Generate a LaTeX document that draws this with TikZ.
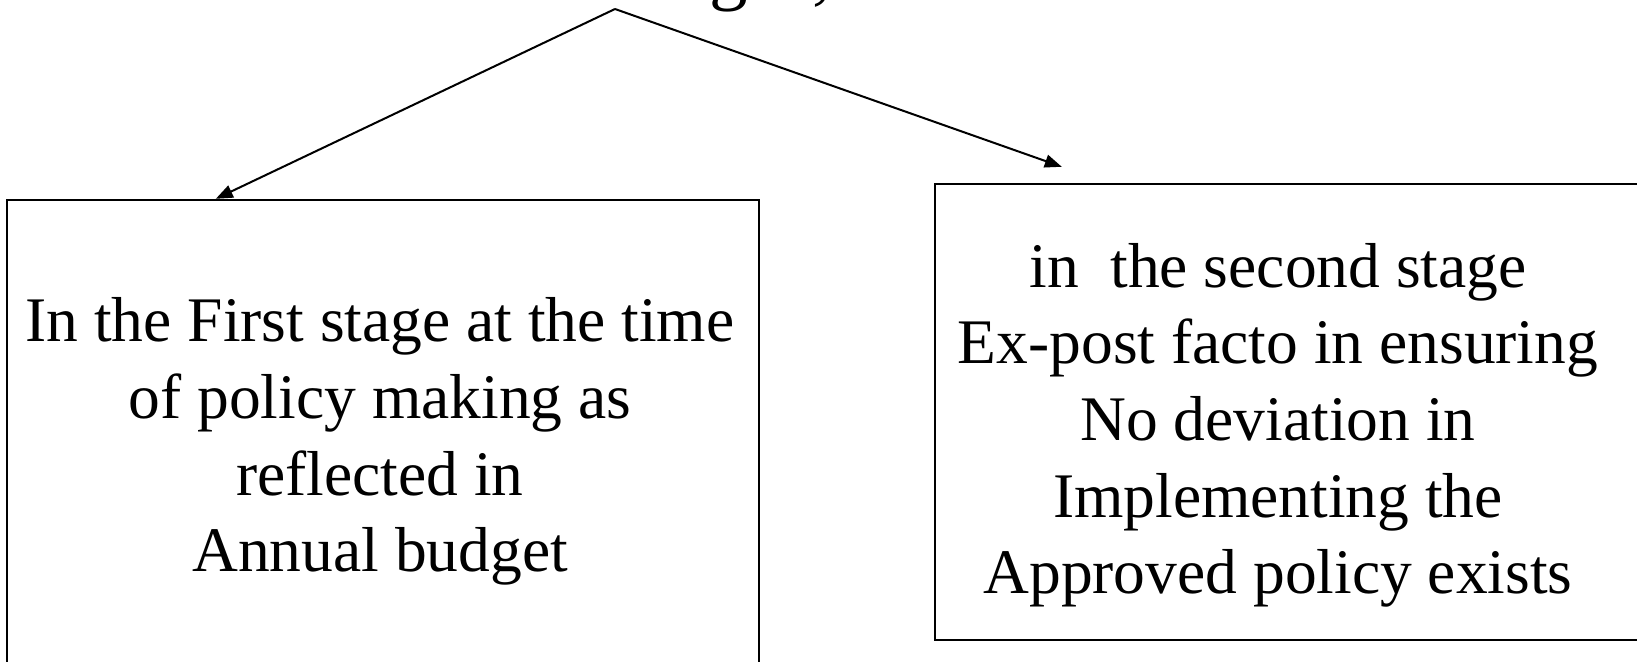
\documentclass[tikz,border=0pt]{standalone}
\usepackage{fontspec}
\setmainfont{Liberation Serif}
\usetikzlibrary{arrows.meta}
\begin{document}
\begin{tikzpicture}[x=1pt,y=-1pt,
  box/.style={draw, line width=2.4pt, inner sep=0pt},
  body/.style={font=\fontsize{63.5}{76.7}\selectfont, align=center, inner sep=0pt},
  conn/.style={line width=2pt, -{Triangle[length=17pt,width=13pt]}}]
\path[use as bounding box, clip] (0,0) rectangle (1637,661);
\node[anchor=base west, font=\fontsize{77}{90}\selectfont, inner sep=0pt] (title) at (624,-4) {stages,};
\coordinate (apex) at (615,9);
\node[box, minimum width=752pt, minimum height=482pt] (lbox) at (383,441) {};
\node[box, minimum width=725pt, minimum height=456pt] (rbox) at (1297.5,412) {};
\node[body] (ltext) at (380,441.5) {In the First stage at the time\\of policy making as\\reflected in\\Annual budget};
\node[body] (rtext) at (1278,425.4) {in\ \ the second stage\\Ex-post facto in ensuring\\No deviation in\\Implementing the\\Approved policy exists};
\draw[conn] (apex) -- ([xshift=210pt]lbox.north west);
\draw[conn] (apex) -- ([xshift=128pt,yshift=16pt]rbox.north west);
\end{tikzpicture}
\end{document}
